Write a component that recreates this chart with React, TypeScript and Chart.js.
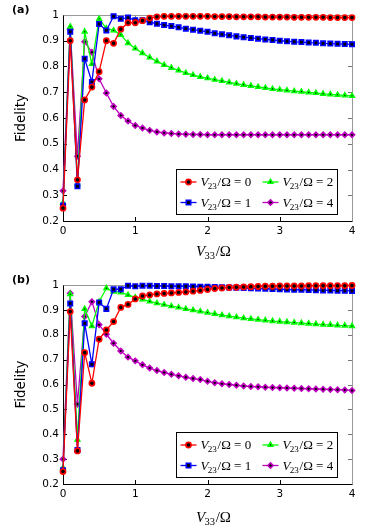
import React, { useEffect, useRef } from 'react';
import { Chart, registerables } from 'chart.js';

Chart.register(...registerables);

// ---------- data ----------
const xValues = [
  0, 0.1, 0.2, 0.3, 0.4, 0.5, 0.6, 0.7, 0.8, 0.9,
  1.0, 1.1, 1.2, 1.3, 1.4, 1.5, 1.6, 1.7, 1.8, 1.9,
  2.0, 2.1, 2.2, 2.3, 2.4, 2.5, 2.6, 2.7, 2.8, 2.9,
  3.0, 3.1, 3.2, 3.3, 3.4, 3.5, 3.6, 3.7, 3.8, 3.9,
  4.0,
];

const v23Values = [0, 1, 2, 4];
const seriesColors = ['#ff0000', '#0000ff', '#00ff00', '#bf00bf'];
const seriesMarkers = ['circle', 'rect', 'triangle', 'rectRot'];

const yTicks = [0.2, 0.3, 0.4, 0.5, 0.6, 0.7, 0.8, 0.9, 1];
const yTickLabels = ['0.2', '0.3', '0.4', '0.5', '0.6', '0.7', '0.8', '0.9', '1'];
const xTicks = [0, 1, 2, 3, 4];
const xTickLabels = ['0', '1', '2', '3', '4'];
const panelLabels = ['(a)', '(b)'];
const yAxisTitle = 'Fidelity';

// panel (a)
const fidelityA_V0 = [
  0.25, 0.90, 0.36, 0.67, 0.72, 0.78, 0.90, 0.89, 0.945, 0.97,
  0.97, 0.978, 0.988, 0.993, 0.995, 0.995, 0.995, 0.995, 0.995, 0.995,
  0.995, 0.994, 0.994, 0.994, 0.993, 0.993, 0.993, 0.993, 0.992, 0.992,
  0.992, 0.992, 0.991, 0.991, 0.991, 0.991, 0.991, 0.990, 0.990, 0.990,
  0.990,
];
const fidelityA_V1 = [
  0.26, 0.935, 0.335, 0.83, 0.74, 0.965, 0.94, 0.995, 0.985, 0.99,
  0.98, 0.98, 0.972, 0.966, 0.961, 0.957, 0.952, 0.947, 0.943, 0.939,
  0.935, 0.929, 0.925, 0.921, 0.917, 0.914, 0.911, 0.908, 0.905, 0.903,
  0.90, 0.898, 0.896, 0.895, 0.893, 0.892, 0.890, 0.889, 0.888, 0.887,
  0.886,
];
const fidelityA_V2 = [
  0.27, 0.955, 0.343, 0.935, 0.81, 0.985, 0.948, 0.94, 0.923, 0.891,
  0.87, 0.852, 0.835, 0.82, 0.806, 0.795, 0.785, 0.775, 0.767, 0.76,
  0.755, 0.749, 0.744, 0.738, 0.733, 0.729, 0.725, 0.721, 0.717, 0.713,
  0.71, 0.707, 0.704, 0.702, 0.699, 0.697, 0.694, 0.692, 0.69, 0.688,
  0.686,
];
const fidelityA_V4 = [
  0.317, 0.945, 0.451, 0.896, 0.855, 0.752, 0.697, 0.645, 0.61, 0.588,
  0.571, 0.561, 0.552, 0.546, 0.542, 0.54, 0.538, 0.537, 0.536, 0.536,
  0.535, 0.535, 0.535, 0.535, 0.535, 0.535, 0.535, 0.535, 0.535, 0.535,
  0.535, 0.535, 0.535, 0.535, 0.535, 0.535, 0.535, 0.535, 0.535, 0.535,
  0.535,
];

// panel (b)
const fidelityB_V0 = [
  0.25, 0.893, 0.333, 0.728, 0.605, 0.782, 0.819, 0.853, 0.91, 0.922,
  0.944, 0.956, 0.96, 0.964, 0.966, 0.968, 0.97, 0.972, 0.975, 0.978,
  0.982, 0.986, 0.988, 0.99, 0.991, 0.992, 0.993, 0.994, 0.995, 0.995,
  0.996, 0.996, 0.996, 0.996, 0.997, 0.997, 0.997, 0.997, 0.997, 0.997,
  0.998,
];
const fidelityB_V1 = [
  0.255, 0.926, 0.337, 0.846, 0.681, 0.93, 0.904, 0.983, 0.983, 0.997,
  0.995, 0.997, 0.997, 0.996, 0.996, 0.995, 0.995, 0.995, 0.994, 0.993,
  0.993, 0.992, 0.991, 0.99, 0.989, 0.988, 0.987, 0.986, 0.985, 0.984,
  0.983, 0.982, 0.981, 0.981, 0.98, 0.979, 0.978, 0.978, 0.977, 0.977,
  0.976,
];
const fidelityB_V2 = [
  0.265, 0.963, 0.378, 0.904, 0.835, 0.933, 0.987, 0.973, 0.97, 0.96,
  0.95, 0.942, 0.934, 0.927, 0.921, 0.915, 0.91, 0.904, 0.899, 0.894,
  0.889, 0.884, 0.879, 0.875, 0.871, 0.867, 0.864, 0.861, 0.858, 0.855,
  0.853, 0.851, 0.849, 0.847, 0.845, 0.843, 0.841, 0.84, 0.838, 0.837,
  0.835,
];
const fidelityB_V4 = [
  0.30, 0.967, 0.521, 0.873, 0.933, 0.84, 0.802, 0.766, 0.735, 0.71,
  0.695, 0.679, 0.666, 0.656, 0.648, 0.641, 0.635, 0.629, 0.624, 0.62,
  0.613, 0.607, 0.603, 0.6, 0.597, 0.594, 0.592, 0.591, 0.589, 0.588,
  0.587, 0.586, 0.585, 0.584, 0.583, 0.582, 0.581, 0.58, 0.579, 0.578,
  0.576,
];

const panelSeries = [
  [fidelityA_V0, fidelityA_V1, fidelityA_V2, fidelityA_V4],
  [fidelityB_V0, fidelityB_V1, fidelityB_V2, fidelityB_V4],
];

// ---------- layout ----------
const W = 374;
const panelLayouts = [
  { height: 265, padTop: 15, xAxisHeight: 44, labelY: 10, xTitleOffset: 30 },
  { height: 266, padTop: 20, xAxisHeight: 47, labelY: 15, xTitleOffset: 33 },
];

const SANS = '"DejaVu Sans", sans-serif';
const SERIF = '"Liberation Serif", "DejaVu Serif", serif';
const MARKER_R = 2.6;
const MARKER_BW = 1.6;

function drawMarker(ctx: CanvasRenderingContext2D, style: string, x: number, y: number, r: number, color: string) {
  ctx.save();
  ctx.fillStyle = '#000';
  ctx.strokeStyle = color;
  ctx.lineWidth = MARKER_BW;
  ctx.beginPath();
  if (style === 'circle') {
    ctx.arc(x, y, r, 0, Math.PI * 2);
  } else if (style === 'rect') {
    const s = r / Math.SQRT2;
    ctx.rect(x - s, y - s, s * 2, s * 2);
  } else if (style === 'triangle') {
    ctx.moveTo(x, y - r);
    ctx.lineTo(x + r * 0.87, y + r * 0.5);
    ctx.lineTo(x - r * 0.87, y + r * 0.5);
    ctx.closePath();
  } else {
    ctx.moveTo(x, y - r);
    ctx.lineTo(x + r, y);
    ctx.lineTo(x, y + r);
    ctx.lineTo(x - r, y);
    ctx.closePath();
  }
  ctx.fill();
  ctx.stroke();
  ctx.restore();
}

// draws  V_{sub} tail  with left edge at x (or centered), middle at y
function drawMath(
  ctx: CanvasRenderingContext2D,
  x: number,
  y: number,
  size: number,
  sub: string,
  tail: string,
  center: boolean,
) {
  const subSize = size * 0.7;
  const fV = `italic ${size}px ${SERIF}`;
  const fS = `${subSize}px ${SERIF}`;
  const fT = `${size}px ${SERIF}`;
  ctx.save();
  ctx.font = fV;
  const wV = ctx.measureText('V').width;
  ctx.font = fS;
  const wS = ctx.measureText(sub).width;
  ctx.font = fT;
  const wT = ctx.measureText(tail).width;
  const total = wV + wS + wT;
  let cx = center ? x - total / 2 : x;
  const base = y + size * 0.33;
  ctx.fillStyle = '#000';
  ctx.textAlign = 'left';
  ctx.textBaseline = 'alphabetic';
  ctx.font = fV;
  ctx.fillText('V', cx, base);
  cx += wV - size * 0.05;
  ctx.font = fS;
  ctx.fillText(sub, cx, base + size * 0.22);
  cx += wS + size * 0.05;
  ctx.font = fT;
  ctx.fillText(tail, cx, base);
  ctx.restore();
}

function makeFramePlugin() {
  return {
    id: 'frameTicks',
    beforeDatasetsDraw(chart: any) {
      const { ctx, chartArea, scales } = chart;
      const { left, right, top, bottom } = chartArea;
      const ys = scales.y;
      const xs = scales.x;
      ctx.save();
      ctx.lineWidth = 1;
      ctx.strokeStyle = '#000';
      ctx.beginPath();
      yTicks.forEach((v) => {
        const p = Math.round(ys.getPixelForValue(v)) + 0.5;
        ctx.moveTo(left, p);
        ctx.lineTo(left + 4, p);
      });
      xTicks.forEach((v) => {
        const p = Math.round(xs.getPixelForValue(v)) + 0.5;
        ctx.moveTo(p, bottom);
        ctx.lineTo(p, bottom - 4);
      });
      ctx.stroke();
      ctx.strokeStyle = '#777';
      ctx.beginPath();
      yTicks.forEach((v) => {
        const p = Math.round(ys.getPixelForValue(v)) + 0.5;
        ctx.moveTo(right, p);
        ctx.lineTo(right - 4, p);
      });
      xTicks.forEach((v) => {
        const p = Math.round(xs.getPixelForValue(v)) + 0.5;
        ctx.moveTo(p, top);
        ctx.lineTo(p, top + 4);
      });
      ctx.stroke();
      // frame
      const L = Math.round(left) + 0.5;
      const R = Math.round(right) + 0.5;
      const T = Math.round(top) + 0.5;
      const B = Math.round(bottom) + 0.5;
      ctx.strokeStyle = '#999';
      ctx.beginPath();
      ctx.moveTo(L, T);
      ctx.lineTo(R, T);
      ctx.lineTo(R, B);
      ctx.stroke();
      ctx.strokeStyle = '#000';
      ctx.beginPath();
      ctx.moveTo(L, T);
      ctx.lineTo(L, B);
      ctx.lineTo(R, B);
      ctx.stroke();
      ctx.restore();
    },
  };
}

function makeOverlayPlugin(panelIndex: number) {
  const lay = panelLayouts[panelIndex];
  return {
    id: 'overlay',
    afterDraw(chart: any) {
      const { ctx, chartArea } = chart;
      const { left, right, bottom } = chartArea;
      ctx.save();
      // panel label
      ctx.fillStyle = '#000';
      ctx.font = `bold 11px ${SANS}`;
      ctx.textAlign = 'left';
      ctx.textBaseline = 'middle';
      ctx.fillText(panelLabels[panelIndex], 12, lay.labelY);
      // x axis title
      drawMath(ctx, (left + right) / 2 + 6, bottom + lay.xTitleOffset, 15, '33', '/Ω', true);
      // legend
      const bw = 161;
      const bh = 45;
      const bx = Math.round(right - 15 - bw) + 0.5;
      const by = Math.round(bottom - 7 - bh) + 0.5;
      ctx.fillStyle = '#fff';
      ctx.fillRect(bx, by, bw, bh);
      ctx.strokeStyle = '#000';
      ctx.lineWidth = 1;
      ctx.strokeRect(bx, by, bw, bh);
      const colX = [4, 86];
      const rowY = [12.5, 33];
      v23Values.forEach((v, i) => {
        const col = Math.floor(i / 2);
        const row = i % 2;
        const lx = bx + colX[col];
        const ly = by + rowY[row];
        ctx.strokeStyle = seriesColors[i];
        ctx.lineWidth = 1.3;
        ctx.beginPath();
        ctx.moveTo(lx, ly);
        ctx.lineTo(lx + 16, ly);
        ctx.stroke();
        drawMarker(ctx, seriesMarkers[i], lx + 8, ly, i === 1 ? MARKER_R * 1.2 : MARKER_R, seriesColors[i]);
        drawMath(ctx, lx + 20, ly, 13, '23', `/Ω = ${v}`, false);
      });
      ctx.restore();
    },
  };
}

function makeConfig(panelIndex: number): any {
  const lay = panelLayouts[panelIndex];
  const series = panelSeries[panelIndex];
  return {
    type: 'line',
    data: {
      datasets: series.map((vals, i) => ({
        label: `V23/Ω = ${v23Values[i]}`,
        data: xValues.map((x, j) => ({ x, y: vals[j] })),
        borderColor: seriesColors[i],
        backgroundColor: seriesColors[i],
        borderWidth: 1.3,
        pointStyle: seriesMarkers[i],
        pointRadius: i === 1 ? MARKER_R * 1.2 : MARKER_R,
        pointBorderWidth: MARKER_BW,
        pointBackgroundColor: '#000',
        pointBorderColor: seriesColors[i],
        tension: 0,
        clip: false,
      })),
    },
    options: {
      animation: false,
      responsive: false,
      devicePixelRatio: 1,
      layout: { padding: { top: lay.padTop, right: 22, left: 0, bottom: 0 } },
      plugins: {
        legend: { display: false },
        tooltip: { enabled: false },
      },
      scales: {
        x: {
          type: 'linear',
          min: 0,
          max: 4,
          afterBuildTicks: (scale: any) => {
            scale.ticks = xTicks.map((value) => ({ value }));
          },
          afterFit: (scale: any) => {
            scale.height = lay.xAxisHeight;
          },
          ticks: {
            callback: (_v: any, idx: number) => xTickLabels[idx],
            font: { family: SANS, size: 10.5 },
            color: '#000',
            padding: 4,
            maxRotation: 0,
          },
          grid: { display: false, drawTicks: false },
          border: { display: false },
        },
        y: {
          type: 'linear',
          min: 0.2,
          max: 1,
          afterBuildTicks: (scale: any) => {
            scale.ticks = yTicks.map((value) => ({ value }));
          },
          afterFit: (scale: any) => {
            scale.width = 63;
          },
          ticks: {
            callback: (_v: any, idx: number) => yTickLabels[idx],
            font: { family: SANS, size: 10.5 },
            color: '#000',
            padding: 4,
          },
          title: {
            display: true,
            text: yAxisTitle,
            font: { family: SANS, size: 13.5 },
            color: '#000',
            padding: { top: 13, bottom: 0 },
          },
          grid: { display: false, drawTicks: false },
          border: { display: false },
        },
      },
    },
    plugins: [makeFramePlugin(), makeOverlayPlugin(panelIndex)],
  };
}

function Panel({ index, top }: { index: number; top: number }) {
  const ref = useRef<HTMLCanvasElement | null>(null);
  useEffect(() => {
    if (!ref.current) return;
    const chart = new Chart(ref.current, makeConfig(index));
    return () => chart.destroy();
  }, [index]);
  const h = panelLayouts[index].height;
  return (
    <canvas
      ref={ref}
      width={W}
      height={h}
      style={{ position: 'absolute', left: 0, top, width: W, height: h, display: 'block' }}
    />
  );
}

export default function App() {
  return (
    <div style={{ position: 'absolute', left: 0, top: 0, width: W, height: 531, background: '#fff' }}>
      <Panel index={0} top={0} />
      <Panel index={1} top={265} />
    </div>
  );
}
